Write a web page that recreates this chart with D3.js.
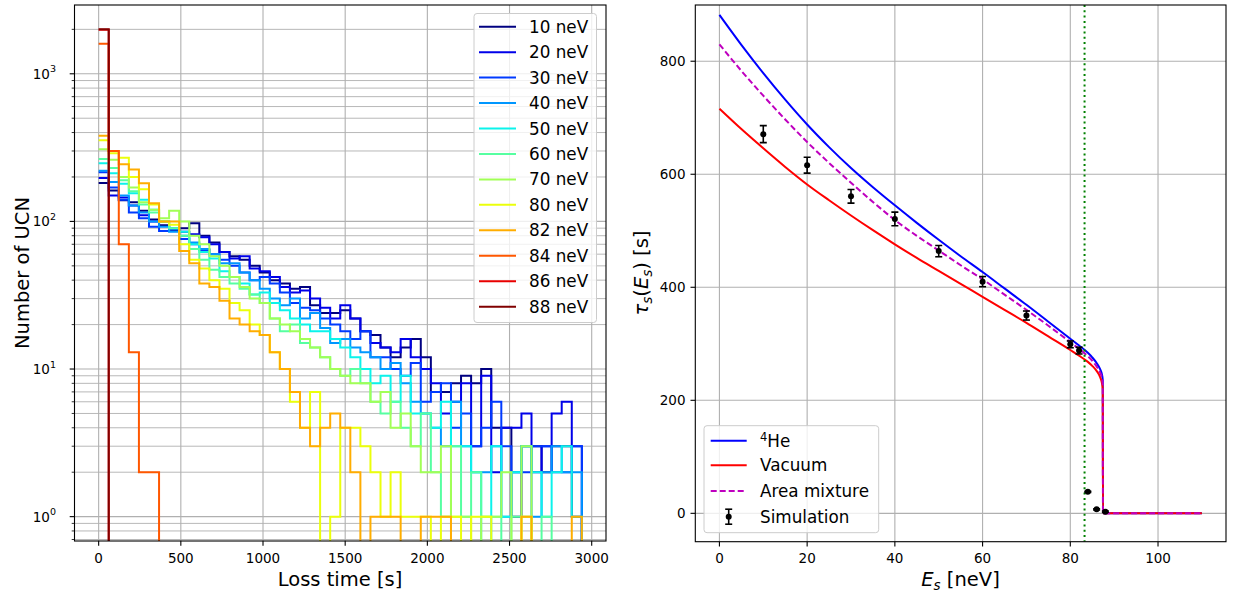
<!DOCTYPE html>
<html>
<head>
<meta charset="utf-8">
<script src="https://cdn.jsdelivr.net/npm/d3@7"></script>
<style>
  body { margin: 0; background: #fff; }
  svg { display: block; }
  text { font-family: "DejaVu Sans", sans-serif; fill: #000; }
</style>
</head>
<body>
<svg id="chart" width="1233" height="599"></svg>
<script>
// ---------- Loss-time histograms (left panel) ----------
const energyLabels = ["10 neV","20 neV","30 neV","40 neV","50 neV","60 neV",
                      "70 neV","80 neV","82 neV","84 neV","86 neV","88 neV"];
const lossTimeMax = 2940;   // upper edge of the histogram range [s]
const nBins = 48;

const counts10 = [182,162,139,135,118,103,94,86,90,97,80,72,62,58,55,50,45,40,38,35,36,27,24,24,25,22,18,17,14,12,14,16,12,7,7,8,9,8,10,4,4,1,3,3,2,3,3,1];
const counts20 = [197,150,145,128,110,100,100,90,85,82,78,70,62,56,58,48,46,42,36,33,34,30,26,22,27,22,18,15,14,13,16,12,10,8,5,6,8,3,9,2,4,4,5,2,3,5,6,3];
const counts30 = [215,170,140,115,105,92,86,88,76,70,64,60,55,50,45,40,42,38,33,28,26,25,22,20,18,16,18,12,12,10,9,11,6,7,8,4,5,3,4,6,3,2,2,3,3,2,2,3];
const counts40 = [220,185,150,128,115,100,92,85,80,72,65,60,52,52,45,40,35,30,27,30,22,24,19,15,16,14,13,12,10,11,8,6,5,4,3,6,3,2,2,3,1,2,3,1,2,3,2,2];
const counts50 = [248,212,180,155,140,120,100,90,85,70,62,56,46,42,38,32,33,28,25,22,20,18,18,16,14,12,10,8,9,6,9,5,5,4,6,3,3,2,0,3,1,2,3,2,1,2,3,1];
const counts60 = [265,230,190,160,130,115,100,90,80,65,55,47,42,38,35,32,28,22,18,20,15,14,12,10,9,10,8,6,5,6,4,3,5,2,1,3,1,2,1,1,0,1,1,0,1,0,0,0];
const counts70 = [308,262,200,170,135,120,105,118,100,80,70,58,50,42,36,30,28,22,20,18,16,14,12,10,9,8,8,6,7,4,5,3,2,2,3,1,1,0,1,1,2,0,3,0,0,0,0,0];
const counts80 = [355,290,270,200,165,130,100,95,70,55,48,40,35,28,25,20,17,13,10,6,4,7,0,1,4,4,3,2,1,2,1,1,1,0,1,1,0,1,1,0,0,0,1,0,0,0,0,0];
const counts82 = [380,300,244,225,181,133,100,100,63,52,38,36,29,22,20,18,17,13,10,7,4,3,4,5,4,2,0,1,1,1,0,0,1,1,1,0,0,0,0,0,0,0,1,0,0,0,0,1];
const counts84 = [1600,300,70,13,2,2,0,0,0,0,0,0,0,0,0,0,0,0,0,0,0,0,0,0,0,0,0,0,0,0,0,0,0,0,0,0,0,0,0,0,0,0,0,0,0,0,0,0];
const counts86 = [1990,0,0,0,0,0,0,0,0,0,0,0,0,0,0,0,0,0,0,0,0,0,0,0,0,0,0,0,0,0,0,0,0,0,0,0,0,0,0,0,0,0,0,0,0,0,0,0];
const counts88 = [2000,0,0,0,0,0,0,0,0,0,0,0,0,0,0,0,0,0,0,0,0,0,0,0,0,0,0,0,0,0,0,0,0,0,0,0,0,0,0,0,0,0,0,0,0,0,0,0];
const histCounts = [counts10,counts20,counts30,counts40,counts50,counts60,
                    counts70,counts80,counts82,counts84,counts86,counts88];

const lossTicks = [0,500,1000,1500,2000,2500,3000];
const ucnDecades = [0,1,2,3];

// ---------- Storage time vs energy (right panel) ----------
const energyGrid = [0,5,10,15,20,25,30,35,40,45,50,55,60,65,70,75,80,82,84,85,86,86.8,87.2,87.4,87.45,110];
const tauHelium  = [882,829,779,732,688,648,611,577,545,514,484,455,427,398,369,339,309,297,284,276,266,255,246,236,0,0];
const tauVacuum  = [716,680,646,613,582,554,527,501,476,452,429,406,383,360,337,313,289,279,268,261,252,241,231,220,0,0];
const tauMixture = [830,783,739,697,657,620,585,551,519,491,465,439,414,387,360,332,303,291,278,270,260,249,240,228,0,0];

const simEnergy = [10,20,30,40,50,60,70,80,82,84,86,88];
const simTau    = [671,616,561,521,464,410,350,299,288,38,7,3];
const simErr    = [15,14,12,12,10,9,8,6,6,1,1,1];

const criticalEnergy = 83.25;
const energyTicks = [0,20,40,60,80,100];
const tauTicks = [0,200,400,600,800];

// ---------- styles ----------
const jetColors = ["#000080","#0000e9","#003aff","#0097ff","#0bf3eb","#56ffa1",
                   "#a1ff56","#ebff0b","#ffad00","#ff5700","#e90000","#800000"];
const gridColor = "#b0b0b0";
const tickFont = 13.5, legendFont = 16.8, labelFont = 19.5;

const svg = d3.select("#chart");
const defs = svg.append("defs");

// ======================= LEFT PANEL =======================
const L = {x0: 74.5, x1: 606, y0: 5, y1: 541};
const xL = d3.scaleLinear().domain([-147, 3087]).range([L.x0, L.x1]);
const yL = d3.scaleLog().domain([Math.pow(10,-0.165), Math.pow(10,3.466)]).range([L.y1, L.y0]);

defs.append("clipPath").attr("id","clipL").append("rect")
  .attr("x",L.x0).attr("y",L.y0).attr("width",L.x1-L.x0).attr("height",L.y1-L.y0);

const gL = svg.append("g");

// minor + major y grid
const yMinorL = [];
for (let d = -1; d <= 3; d++) for (let m = 1; m <= 9; m++) {
  const v = m*Math.pow(10,d);
  if (v >= yL.domain()[0] && v <= yL.domain()[1]) yMinorL.push(v);
}
gL.append("g").selectAll("line").data(yMinorL).join("line")
  .attr("x1",L.x0).attr("x2",L.x1)
  .attr("y1",d=>yL(d)).attr("y2",d=>yL(d))
  .attr("stroke",gridColor).attr("stroke-width",d=>Number.isInteger(Math.log10(d))?1.1:0.9);
gL.append("g").selectAll("line").data(lossTicks).join("line")
  .attr("x1",d=>xL(d)).attr("x2",d=>xL(d)).attr("y1",L.y0).attr("y2",L.y1)
  .attr("stroke",gridColor).attr("stroke-width",1.1);

// histogram step lines
const binWidth = lossTimeMax / nBins;
const stepLine = d3.line()
  .x(d => xL(d[0]))
  .y(d => d[1] > 0 ? yL(d[1]) : L.y1 + 20)
  .curve(d3.curveStepAfter);
const gHist = gL.append("g").attr("clip-path","url(#clipL)");
histCounts.forEach((vals, i) => {
  const pts = vals.map((v,k) => [k*binWidth, v]);
  pts.push([nBins*binWidth, 0]);
  gHist.append("path").attr("d", stepLine(pts))
    .attr("fill","none").attr("stroke",jetColors[i]).attr("stroke-width",2)
    .attr("stroke-linejoin","miter");
});

// spines
gL.append("rect").attr("x",L.x0).attr("y",L.y0).attr("width",L.x1-L.x0).attr("height",L.y1-L.y0)
  .attr("fill","none").attr("stroke","#000").attr("stroke-width",1.1);

// x ticks
const gxL = gL.append("g");
lossTicks.forEach(t => {
  gxL.append("line").attr("x1",xL(t)).attr("x2",xL(t)).attr("y1",L.y1).attr("y2",L.y1+4.8)
    .attr("stroke","#000").attr("stroke-width",1.1);
  gxL.append("text").attr("x",xL(t)).attr("y",563).attr("text-anchor","middle")
    .attr("font-size",tickFont).text(d3.format("d")(t));
});
// y ticks (log)
yMinorL.forEach(v => {
  const major = Number.isInteger(Math.log10(v));
  gL.append("line").attr("x1",L.x0-(major?4.8:2.8)).attr("x2",L.x0)
    .attr("y1",yL(v)).attr("y2",yL(v)).attr("stroke","#000").attr("stroke-width",major?1.1:0.8);
});
ucnDecades.forEach(e => {
  const t = gL.append("text").attr("x",56).attr("y",yL(Math.pow(10,e))+5)
    .attr("text-anchor","end").attr("font-size",tickFont);
  t.append("tspan").text("10");
  t.append("tspan").attr("dy",-6.5).attr("font-size",9.5).text(e);
});
gL.append("text").attr("x",340).attr("y",586).attr("text-anchor","middle")
  .attr("font-size",labelFont).text("Loss time [s]");
gL.append("text").attr("transform","translate(29,273) rotate(-90)").attr("text-anchor","middle")
  .attr("font-size",labelFont).text("Number of UCN");

// legend
const legL = gL.append("g");
legL.append("rect").attr("x",474).attr("y",13.5).attr("width",122.5).attr("height",309)
  .attr("rx",3).attr("fill","#fff").attr("fill-opacity",0.8).attr("stroke","#cccccc").attr("stroke-width",1);
energyLabels.forEach((lab,i) => {
  const y = 26.7 + 25.45*i;
  legL.append("line").attr("x1",479).attr("x2",516).attr("y1",y).attr("y2",y)
    .attr("stroke",jetColors[i]).attr("stroke-width",2);
  legL.append("text").attr("x",529).attr("y",y+6).attr("font-size",legendFont).text(lab);
});

// ======================= RIGHT PANEL =======================
const R = {x0: 695.3, x1: 1226, y0: 5, y1: 541.7};
const xR = d3.scaleLinear().domain([-5.5, 115.5]).range([R.x0, R.x1]);
const yR = d3.scaleLinear().domain([-50.2, 899.5]).range([R.y1, R.y0]);

defs.append("clipPath").attr("id","clipR").append("rect")
  .attr("x",R.x0).attr("y",R.y0).attr("width",R.x1-R.x0).attr("height",R.y1-R.y0);

const gR = svg.append("g");
gR.append("g").selectAll("line").data(energyTicks).join("line")
  .attr("x1",d=>xR(d)).attr("x2",d=>xR(d)).attr("y1",R.y0).attr("y2",R.y1)
  .attr("stroke",gridColor).attr("stroke-width",1.1);
gR.append("g").selectAll("line").data(tauTicks).join("line")
  .attr("x1",R.x0).attr("x2",R.x1).attr("y1",d=>yR(d)).attr("y2",d=>yR(d))
  .attr("stroke",gridColor).attr("stroke-width",1.1);

const gCurves = gR.append("g").attr("clip-path","url(#clipR)");
const tauLine = d3.line().x(d=>xR(d[0])).y(d=>yR(d[1])).curve(d3.curveMonotoneX);
const curveSpecs = [
  {vals: tauHelium,  color: "#0000ff", dash: null},
  {vals: tauVacuum,  color: "#ff0000", dash: null},
  {vals: tauMixture, color: "#bf00bf", dash: "6,3"}
];
curveSpecs.forEach(c => {
  gCurves.append("path").attr("d", tauLine(energyGrid.map((e,k)=>[e,c.vals[k]])))
    .attr("fill","none").attr("stroke",c.color).attr("stroke-width",2)
    .attr("stroke-dasharray",c.dash);
});

// critical energy marker
gCurves.append("line").attr("x1",xR(criticalEnergy)).attr("x2",xR(criticalEnergy))
  .attr("y1",R.y0).attr("y2",R.y1).attr("stroke","#008000").attr("stroke-width",2)
  .attr("stroke-dasharray","2,3.3");

// simulation points with error bars
const gSim = gCurves.append("g");
simEnergy.forEach((e,k) => {
  const x = xR(e), yT = yR(simTau[k]+simErr[k]), yB = yR(simTau[k]-simErr[k]);
  gSim.append("line").attr("x1",x).attr("x2",x).attr("y1",yT).attr("y2",yB).attr("stroke","#000").attr("stroke-width",1.6);
  [yT,yB].forEach(yy => gSim.append("line").attr("x1",x-3.5).attr("x2",x+3.5).attr("y1",yy).attr("y2",yy)
    .attr("stroke","#000").attr("stroke-width",1.6));
  gSim.append("circle").attr("cx",x).attr("cy",yR(simTau[k])).attr("r",3).attr("fill","#000");
});

gR.append("rect").attr("x",R.x0).attr("y",R.y0).attr("width",R.x1-R.x0).attr("height",R.y1-R.y0)
  .attr("fill","none").attr("stroke","#000").attr("stroke-width",1.1);

energyTicks.forEach(t => {
  gR.append("line").attr("x1",xR(t)).attr("x2",xR(t)).attr("y1",R.y1).attr("y2",R.y1+4.8)
    .attr("stroke","#000").attr("stroke-width",1.1);
  gR.append("text").attr("x",xR(t)).attr("y",563).attr("text-anchor","middle")
    .attr("font-size",tickFont).text(t);
});
tauTicks.forEach(t => {
  gR.append("line").attr("x1",R.x0-4.8).attr("x2",R.x0).attr("y1",yR(t)).attr("y2",yR(t))
    .attr("stroke","#000").attr("stroke-width",1.1);
  gR.append("text").attr("x",685.5).attr("y",yR(t)+5).attr("text-anchor","end")
    .attr("font-size",tickFont).text(t);
});

// axis labels with math-style subscripts
const xlab = gR.append("text").attr("x",960.5).attr("y",586).attr("text-anchor","middle").attr("font-size",labelFont);
xlab.append("tspan").attr("font-style","italic").text("E");
xlab.append("tspan").attr("font-style","italic").attr("font-size",13.5).attr("dy",4).text("s");
xlab.append("tspan").attr("dy",-4).text(" [neV]");

const ylab = gR.append("text").attr("transform","translate(648,273) rotate(-90)")
  .attr("text-anchor","middle").attr("font-size",labelFont);
ylab.append("tspan").attr("font-style","italic").text("τ");
ylab.append("tspan").attr("font-style","italic").attr("font-size",13.5).attr("dy",4).text("s");
ylab.append("tspan").attr("dy",-4).text("(");
ylab.append("tspan").attr("font-style","italic").text("E");
ylab.append("tspan").attr("font-style","italic").attr("font-size",13.5).attr("dy",4).text("s");
ylab.append("tspan").attr("dy",-4).text(") [s]");

// legend
const legR = gR.append("g");
legR.append("rect").attr("x",704).attr("y",425.7).attr("width",174.7).attr("height",107)
  .attr("rx",3).attr("fill","#fff").attr("fill-opacity",0.8).attr("stroke","#cccccc").attr("stroke-width",1);
const legRows = [440.7, 465.3, 491, 516.7];
curveSpecs.forEach((c,i) => {
  legR.append("line").attr("x1",710.7).attr("x2",746.7).attr("y1",legRows[i]).attr("y2",legRows[i])
    .attr("stroke",c.color).attr("stroke-width",2).attr("stroke-dasharray",c.dash);
});
const he = legR.append("text").attr("x",760).attr("y",legRows[0]+6).attr("font-size",legendFont);
he.append("tspan").attr("font-size",11.5).attr("dy",-6).text("4");
he.append("tspan").attr("dy",6).text("He");
legR.append("text").attr("x",760).attr("y",legRows[1]+6).attr("font-size",legendFont).text("Vacuum");
legR.append("text").attr("x",760).attr("y",legRows[2]+6).attr("font-size",legendFont).text("Area mixture");
legR.append("text").attr("x",760).attr("y",legRows[3]+6).attr("font-size",legendFont).text("Simulation");
const sx = 728.7, sy = legRows[3];
legR.append("line").attr("x1",sx).attr("x2",sx).attr("y1",sy-7.5).attr("y2",sy+7.5).attr("stroke","#000").attr("stroke-width",1.6);
[sy-7.5, sy+7.5].forEach(yy => legR.append("line").attr("x1",sx-3.5).attr("x2",sx+3.5).attr("y1",yy).attr("y2",yy).attr("stroke","#000").attr("stroke-width",1.6));
legR.append("circle").attr("cx",sx).attr("cy",sy).attr("r",3).attr("fill","#000");
</script>
</body>
</html>
